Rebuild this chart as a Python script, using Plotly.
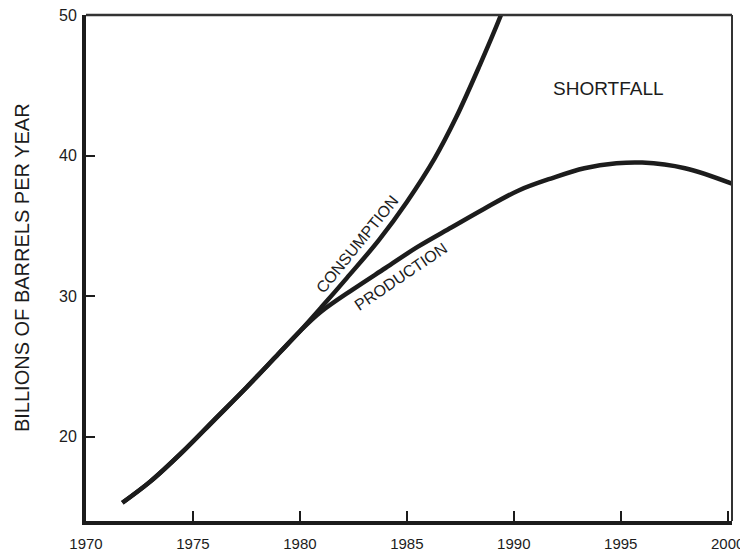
import plotly.graph_objects as go

# Shared segment (both curves coincide)
shared_years = [1971.7, 1973.0, 1974.5, 1976.0, 1977.5, 1979.0, 1980.0]
shared_values = [15.3, 16.8, 18.9, 21.2, 23.5, 25.9, 27.5]

# Consumption continuation
cons_years = [1981.0, 1982.2, 1983.7, 1985.0, 1986.3, 1987.3, 1988.4, 1989.4, 1989.9]
cons_values = [29.2, 31.3, 34.0, 36.7, 39.8, 42.7, 46.4, 50.0, 52.0]

# Production continuation
prod_years = [1981.0, 1982.5, 1984.0, 1985.5, 1987.1, 1988.6, 1990.2, 1991.8, 1993.3,
              1994.8, 1996.0, 1998.0, 2000.2]
prod_values = [28.9, 30.5, 32.0, 33.5, 34.9, 36.2, 37.5, 38.4, 39.1,
               39.45, 39.5, 39.1, 38.0]

x_ticks = [1970, 1975, 1980, 1985, 1990, 1995, 2000]
y_ticks = [20, 30, 40, 50]
x_range = [1970, 2000.2]
y_range = [14, 50]

ink = "#1c1c1c"
frame = "#333333"
font_family = "Liberation Sans, Arial, sans-serif"

fig = go.Figure()
fig.add_trace(go.Scatter(
    x=shared_years + cons_years, y=shared_values + cons_values,
    mode="lines", line=dict(color=ink, width=4.5, shape="spline", smoothing=1.0),
    name="Consumption", hoverinfo="skip"))
fig.add_trace(go.Scatter(
    x=shared_years + prod_years, y=shared_values + prod_values,
    mode="lines", line=dict(color=ink, width=4.5, shape="spline", smoothing=1.0),
    name="Production", hoverinfo="skip"))

fig.add_annotation(x=1982.66, y=33.7, text="CONSUMPTION", showarrow=False,
                   textangle=-51, font=dict(size=16, color=ink, family=font_family))
fig.add_annotation(x=1984.72, y=31.4, text="PRODUCTION", showarrow=False,
                   textangle=-34, font=dict(size=16, color=ink, family=font_family))
fig.add_annotation(x=1994.43, y=44.74, text="SHORTFALL", showarrow=False,
                   font=dict(size=19, color=ink, family=font_family))
fig.add_annotation(xref="paper", yref="paper", x=-0.099, y=0.5,
                   text="BILLIONS OF BARRELS PER YEAR", showarrow=False,
                   textangle=-90, xanchor="center", yanchor="middle",
                   font=dict(size=20, color=ink, family=font_family))

# thin frame on top and right
fig.add_shape(type="line", xref="paper", yref="paper", x0=0, x1=1, y0=1, y1=1,
              layer="above", line=dict(color=frame, width=2.5))
fig.add_shape(type="line", xref="paper", yref="paper", x0=1, x1=1, y0=0, y1=1,
              layer="above", line=dict(color=frame, width=2))

# page body adds an 8px offset, so figure is sized to fit the window
fig.update_layout(
    width=740, height=544,
    margin=dict(l=78, r=16, t=7, b=31, autoexpand=False),
    paper_bgcolor="white", plot_bgcolor="white",
    showlegend=False,
    font=dict(family=font_family, color=ink),
    xaxis=dict(range=x_range, tickvals=x_ticks, ticktext=[str(v) for v in x_ticks],
               showgrid=False, zeroline=False, showline=True, linewidth=4, linecolor=ink,
               ticks="inside", ticklen=10, tickwidth=1.5, tickcolor=ink,
               tickfont=dict(size=15), ticklabelstandoff=6, automargin=False,
               ticklabeloverflow="allow"),
    yaxis=dict(range=y_range, tickvals=y_ticks, ticktext=[str(v) for v in y_ticks],
               showgrid=False, zeroline=False, showline=True, linewidth=4, linecolor=ink,
               ticks="inside", ticklen=9, tickwidth=1.5, tickcolor=ink,
               tickfont=dict(size=16), ticklabelstandoff=2, automargin=False,
               ticklabeloverflow="allow"),
    xaxis2=dict(range=x_range, overlaying="x", side="top", showline=True, linewidth=2.5,
                linecolor=frame, showticklabels=False, ticks="", showgrid=False,
                zeroline=False, automargin=False),
    yaxis2=dict(range=y_range, overlaying="y", side="right", showline=True, linewidth=2,
                linecolor=frame, showticklabels=False, ticks="", showgrid=False,
                zeroline=False, automargin=False),
)

fig.write_html("out.html")
